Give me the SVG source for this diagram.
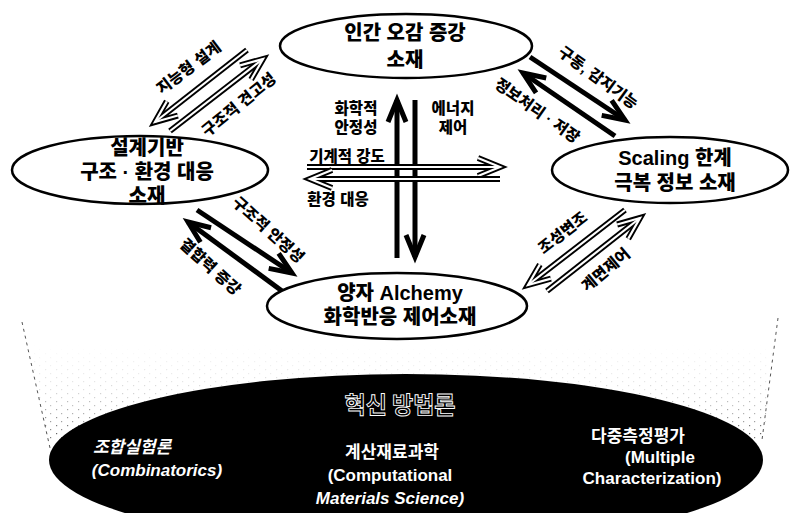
<svg xmlns="http://www.w3.org/2000/svg" width="790" height="513" viewBox="0 0 790 513">
<style>
.node{fill:#fff;stroke:#000;stroke-width:2.5}
.nt{font-family:"Liberation Sans","Noto Sans CJK KR",sans-serif;font-weight:900;font-size:20px;fill:#000;text-anchor:middle}
.lb{font-family:"Liberation Sans","Noto Sans CJK KR",sans-serif;font-weight:900;font-size:15.5px;fill:#000;text-anchor:middle}
.bt{font-family:"Liberation Sans","Noto Sans CJK KR",sans-serif;font-weight:bold;font-size:17px;fill:#fff;text-anchor:middle}
.solid{stroke:#000;stroke-width:5;fill:none;marker-end:url(#ms)}
.holb{stroke:#000;stroke-width:6;fill:none;marker-end:url(#mhb)}
.holw{stroke:#fff;stroke-width:2.2;fill:none;marker-end:url(#mhw)}
</style>
<defs>
<marker id="ms" markerUnits="userSpaceOnUse" orient="auto" refX="0" refY="0" markerWidth="60" markerHeight="60" viewBox="-30 -30 60 60" overflow="visible">
<path d="M-22,-9 L0,0 L-22,9" fill="none" stroke="#000" stroke-width="5" stroke-linejoin="miter"/>
</marker>
<marker id="mhb" markerUnits="userSpaceOnUse" orient="auto" refX="0" refY="0" markerWidth="60" markerHeight="60" viewBox="-30 -30 60 60" overflow="visible">
<path d="M-22,-9 L0,0 L-22,9" fill="none" stroke="#000" stroke-width="6" stroke-linejoin="miter"/>
</marker>
<marker id="mhw" markerUnits="userSpaceOnUse" orient="auto" refX="0" refY="0" markerWidth="60" markerHeight="60" viewBox="-30 -30 60 60" overflow="visible">
<path d="M-22,-9 L0,0 L-22,9" fill="none" stroke="#fff" stroke-width="2.2" stroke-linejoin="miter"/>
</marker>
<pattern id="dots" width="11" height="8" patternUnits="userSpaceOnUse">
<rect x="1" y="1" width="1.2" height="1.2" fill="#555"/>
<rect x="6" y="5" width="1.2" height="1.2" fill="#777"/>
</pattern>
<linearGradient id="fade" x1="0" y1="0" x2="0" y2="1">
<stop offset="0" stop-color="#fff" stop-opacity="0"/>
<stop offset="0.5" stop-color="#fff" stop-opacity="0.25"/>
<stop offset="1" stop-color="#fff" stop-opacity="1"/>
</linearGradient>
<mask id="fm" maskUnits="userSpaceOnUse" x="0" y="300" width="790" height="160">
<rect x="0" y="345" width="790" height="95" fill="url(#fade)"/>
</mask>
</defs>

<g id="base">
<polygon points="22,322 778,318 762,450 50,450" fill="url(#dots)" mask="url(#fm)"/>
<line x1="22" y1="322" x2="50" y2="448" stroke="#555" stroke-width="1" stroke-dasharray="3,4"/>
<line x1="778" y1="318" x2="762" y2="440" stroke="#555" stroke-width="1" stroke-dasharray="3,4"/>
<ellipse cx="406" cy="460" rx="357" ry="86" fill="#000"/>
<text x="400" y="413" font-family="Noto Sans CJK KR,sans-serif" font-weight="bold" font-size="23" fill="#000" stroke="#fff" stroke-width="0.9" text-anchor="middle">혁신 방법론</text>
<text class="bt" x="132" y="453" font-style="italic">조합실험론</text>
<text class="bt" x="157" y="476" font-style="italic">(Combinatorics)</text>
<text class="bt" x="392" y="458">계산재료과학</text>
<text class="bt" x="390" y="481">(Computational</text>
<text class="bt" x="390" y="504" font-style="italic">Materials Science)</text>
<text class="bt" x="638" y="442">다중측정평가</text>
<text class="bt" x="660" y="463">(Multiple</text>
<text class="bt" x="652" y="484">Characterization)</text>
</g>

<g id="connectors">
<line class="holb" x1="247" y1="50" x2="155" y2="122"/>
<line class="holw" x1="247" y1="50" x2="155" y2="122"/>
<line class="holb" x1="170" y1="131" x2="263" y2="59"/>
<line class="holw" x1="170" y1="131" x2="263" y2="59"/>
<line class="solid" x1="530" y1="57" x2="625" y2="120"/>
<line class="solid" x1="615" y1="136" x2="523" y2="73"/>
<line class="solid" x1="197" y1="210" x2="292" y2="273"/>
<line class="solid" x1="282" y1="291" x2="188" y2="222"/>
<line class="holb" x1="625" y1="210" x2="528" y2="285"/>
<line class="holw" x1="625" y1="210" x2="528" y2="285"/>
<line class="holb" x1="547" y1="291" x2="640" y2="218"/>
<line class="holw" x1="547" y1="291" x2="640" y2="218"/>
<line class="solid" x1="397" y1="258" x2="397" y2="100"/>
<line class="solid" x1="415" y1="100" x2="415" y2="257"/>
<line class="holb" x1="307" y1="167" x2="500" y2="167"/>
<line class="holw" x1="307" y1="167" x2="500" y2="167"/>
<line class="holb" x1="500" y1="179" x2="310" y2="179"/>
<line class="holw" x1="500" y1="179" x2="310" y2="179"/>
<text class="lb" transform="translate(189 68) rotate(-37)" dy="5">지능형 설계</text>
<text class="lb" transform="translate(239 105) rotate(-39)" dy="5">구조적 견고성</text>
<text class="lb" transform="translate(598 78) rotate(36)" dy="5">구동, 감지기능</text>
<text class="lb" transform="translate(537 111) rotate(35)" dy="5">정보처리 · 저장</text>
<text class="lb" transform="translate(268 230) rotate(42)" dy="5">구조적 안정성</text>
<text class="lb" transform="translate(210 267) rotate(42)" dy="5">결합력 증강</text>
<text class="lb" transform="translate(563 233) rotate(-38)" dy="5">조성변조</text>
<text class="lb" transform="translate(606 270) rotate(-40)" dy="5">계면제어</text>
<text class="lb" x="356" y="114">화학적</text>
<text class="lb" x="356" y="133">안정성</text>
<text class="lb" x="453" y="114">에너지</text>
<text class="lb" x="453" y="133">제어</text>
<text class="lb" x="347" y="162">기계적 강도</text>
<text class="lb" x="338" y="205">환경 대응</text>
</g>

<g id="node-top">
<ellipse class="node" cx="406" cy="46" rx="126" ry="32"/>
<text class="nt" x="405" y="40">인간 오감 증강</text>
<text class="nt" x="405" y="67">소재</text>
</g>
<g id="node-left">
<ellipse class="node" cx="140" cy="170" rx="128" ry="34"/>
<text class="nt" x="147" y="155">설계기반</text>
<text class="nt" x="147" y="179">구조 · 환경 대응</text>
<text class="nt" x="147" y="203">소재</text>
</g>
<g id="node-right">
<ellipse class="node" cx="670" cy="170" rx="118" ry="33"/>
<text class="nt" x="675" y="165">Scaling 한계</text>
<text class="nt" x="675" y="190">극복 정보 소재</text>
</g>
<g id="node-bottom">
<ellipse class="node" cx="397" cy="306" rx="130" ry="33"/>
<text class="nt" x="400" y="300">양자 Alchemy</text>
<text class="nt" x="400" y="324">화학반응 제어소재</text>
</g>
</svg>
